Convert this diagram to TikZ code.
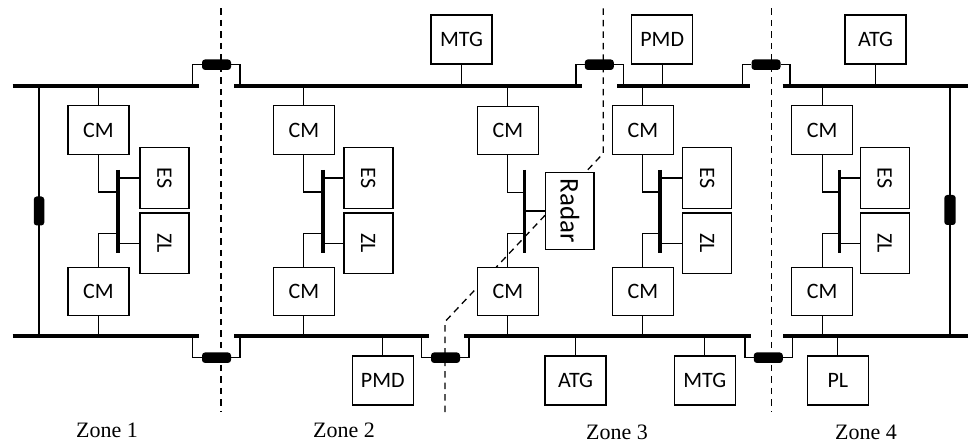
\documentclass[tikz,border=0pt]{standalone}
\usepackage{fontspec}
\usepackage{graphicx}
\setmainfont{Carlito}
\newfontfamily\zonefont{Liberation Serif}
\begin{document}
\begin{tikzpicture}[x=1pt,y=-1pt,
 box/.style={draw, line width=1.4pt, fill=white, inner sep=0pt, font=\fontsize{22}{26}\selectfont},
 cmbox/.style={box, minimum width=61pt, minimum height=48.5pt},
 genbox/.style={box, minimum width=61pt, minimum height=49pt},
 loadbox/.style={box, minimum width=49pt, minimum height=60.5pt},
 radarbox/.style={box, minimum width=48.5pt, minimum height=76.5pt, font=\fontsize{27}{30}\selectfont},
 bus/.style={line width=3.8pt},
 minibus/.style={line width=3.5pt},
 wire/.style={line width=1.3pt},
 pillh/.style={fill=black, rounded corners=3pt, minimum width=29pt, minimum height=10.5pt, inner sep=0pt},
 pillv/.style={fill=black, rounded corners=3pt, minimum width=10.5pt, minimum height=29pt, inner sep=0pt},
 zoneline/.style={line width=1.3pt, dash pattern=on 6.5pt off 5pt},
 zonelabel/.style={font=\zonefont\fontsize{22}{26}\selectfont, anchor=base, inner sep=0pt}
]
\useasboundingbox (0,0) rectangle (968,443);

% zone boundaries
\coordinate (d1t) at (221,8.3);   \coordinate (d1b) at (221,411.7);
\coordinate (d2t) at (603.3,8.3); \coordinate (d2m) at (603.3,153.3);
\coordinate (d2n) at (445,321.7); \coordinate (d2b) at (445,415);
\coordinate (d3t) at (771.7,8.3); \coordinate (d3b) at (771.7,411.7);
\draw[zoneline] (d1t) -- (d1b);
\draw[zoneline] (d2t) -- (d2m) -- (d2n) -- (d2b);
\draw[zoneline] (d3t) -- (d3b);

% bus coordinates
\coordinate (t1a) at (12.7,85.7);  \coordinate (t1b) at (199,85.7);
\coordinate (t2a) at (234.3,85.7); \coordinate (t2b) at (582,85.7);
\coordinate (t3a) at (617.3,85.7); \coordinate (t3b) at (750,85.7);
\coordinate (t4a) at (782.7,85.7); \coordinate (t4b) at (968,85.7);
\coordinate (b1a) at (12.7,335.7);  \coordinate (b1b) at (199.3,335.7);
\coordinate (b2a) at (234.3,335.7); \coordinate (b2b) at (429,335.7);
\coordinate (b3a) at (464.3,335.7); \coordinate (b3b) at (750.7,335.7);
\coordinate (b4a) at (783.3,335.7); \coordinate (b4b) at (968,335.7);

% boxes
\node[cmbox] (cm1u) at (98.5,130) {CM};
\node[cmbox] (cm1d) at (98.5,291.5) {CM};
\node[loadbox] (es1) at (164.5,178) {\rotatebox{-90}{ES}};
\node[loadbox] (zl1) at (164.5,243.2) {\rotatebox{-90}{ZL}};

\node[cmbox] (cm2u) at (303.8,130) {CM};
\node[cmbox] (cm2d) at (303.8,291.5) {CM};
\node[loadbox] (es2) at (368.3,178) {\rotatebox{-90}{ES}};
\node[loadbox] (zl2) at (368.3,243.2) {\rotatebox{-90}{ZL}};
\node[genbox] (mtg2) at (461.5,39.5) {MTG};
\node[genbox] (pmd2) at (382.8,380.3) {PMD};

\node[cmbox] (cm3u) at (507.8,130.5) {CM};
\node[cmbox] (cm3d) at (507.8,291.5) {CM};
\node[radarbox] (radar) at (569.8,211) {\rotatebox{-90}{Radar}};
\node[genbox] (atg3) at (575.5,380.3) {ATG};
\node[genbox] (pmd3) at (662.2,39.5) {PMD};
\node[cmbox] (cm3ru) at (642.8,130) {CM};
\node[cmbox] (cm3rd) at (642.8,291.5) {CM};
\node[loadbox] (es3) at (707.2,178) {\rotatebox{-90}{ES}};
\node[loadbox] (zl3) at (707.2,243.2) {\rotatebox{-90}{ZL}};
\node[genbox] (mtg3) at (704.8,380.3) {MTG};

\node[cmbox] (cm4u) at (822.2,130) {CM};
\node[cmbox] (cm4d) at (822.2,291.5) {CM};
\node[loadbox] (es4) at (884.7,178) {\rotatebox{-90}{ES}};
\node[loadbox] (zl4) at (884.7,243.2) {\rotatebox{-90}{ZL}};
\node[genbox] (atg4) at (875.5,39.5) {ATG};
\node[genbox] (pl4) at (837.8,380.3) {PL};

% main buses
\draw[bus] (t1a) -- (t1b); \draw[bus] (t2a) -- (t2b);
\draw[bus] (t3a) -- (t3b); \draw[bus] (t4a) -- (t4b);
\draw[bus] (b1a) -- (b1b); \draw[bus] (b2a) -- (b2b);
\draw[bus] (b3a) -- (b3b); \draw[bus] (b4a) -- (b4b);

% mini buses
\coordinate (m1a) at (118,170);   \coordinate (m1b) at (118,253);
\coordinate (m2a) at (323,170);   \coordinate (m2b) at (323,253);
\coordinate (m3a) at (524.3,170); \coordinate (m3b) at (524.3,253.3);
\coordinate (m4a) at (660,170);   \coordinate (m4b) at (660,253);
\coordinate (m5a) at (839.3,170); \coordinate (m5b) at (839.3,253);
\draw[minibus] (m1a) -- (m1b);
\draw[minibus] (m2a) -- (m2b);
\draw[minibus] (m3a) -- (m3b);
\draw[minibus] (m4a) -- (m4b);
\draw[minibus] (m5a) -- (m5b);

% tap points on mini buses
\coordinate (m1u) at (118,192);   \coordinate (m1d) at (118,233.7);
\coordinate (m2u) at (323,192);   \coordinate (m2d) at (323,233.7);
\coordinate (m3u) at (524.3,192.3); \coordinate (m3d) at (524.3,233.7);
\coordinate (m4u) at (660,192);   \coordinate (m4d) at (660,233.7);
\coordinate (m5u) at (839.3,192); \coordinate (m5d) at (839.3,233.7);

% CM connections
\foreach \c/\m/\t/\b in {1/1/t1a/b1a, 2/2/t2a/b2a, 3/3/t2a/b3a, 3r/4/t3a/b3a, 4/5/t4a/b4a}{
  \draw[wire] (cm\c u.north) -- (cm\c u.north |- \t);
  \draw[wire] (cm\c u.south) |- (m\m u);
  \draw[wire] (cm\c d.north) |- (m\m d);
  \draw[wire] (cm\c d.south) -- (cm\c d.south |- \b);
}
% loads on mini buses
\draw[wire] (es1.west) -- (es1.west -| m1a);
\draw[wire] (zl1.west) -- (zl1.west -| m1a);
\draw[wire] (es2.west) -- (es2.west -| m2a);
\draw[wire] (zl2.west) -- (zl2.west -| m2a);
\draw[wire] (radar.west) -- (radar.west -| m3a);
\draw[wire] (es3.west) -- (es3.west -| m4a);
\draw[wire] (zl3.west) -- (zl3.west -| m4a);
\draw[wire] (es4.west) -- (es4.west -| m5a);
\draw[wire] (zl4.west) -- (zl4.west -| m5a);

% generators / loads on main buses
\draw[wire] (mtg2.south) -- (mtg2.south |- t2a);
\draw[wire] (pmd3.south) -- (pmd3.south |- t3a);
\draw[wire] (atg4.south) -- (atg4.south |- t4a);
\draw[wire] (pmd2.north) -- (pmd2.north |- b2a);
\draw[wire] (atg3.north) -- (atg3.north |- b3a);
\draw[wire] (mtg3.north) -- (mtg3.north |- b3a);
\draw[wire] (pl4.north) -- (pl4.north |- b4a);

% side ties
\coordinate (s1t) at (39,85.7);  \coordinate (s1b) at (39,335.7);
\coordinate (s4t) at (950,85.7); \coordinate (s4b) at (950,335.7);
\draw[wire] (s1t) -- (s1b);
\draw[wire] (s4t) -- (s4b);
\node[pillv] (p1) at (39,211) {};
\node[pillv, minimum width=11.4pt, minimum height=30pt] (p4) at (950,210) {};

% inter-zone links
\node[pillh] (l12t) at (216.5,64.7) {};
\node[pillh] (l23t) at (599.3,64.7) {};
\node[pillh] (l34t) at (766,64.7) {};
\node[pillh] (l12b) at (216.5,357.7) {};
\node[pillh] (l23b) at (445.5,357.7) {};
\node[pillh] (l34b) at (768.3,357.7) {};
\coordinate (l12ta) at (192.7,85.7); \coordinate (l12tb) at (240,85.7);
\coordinate (l23ta) at (576,85.7);   \coordinate (l23tb) at (623.3,85.7);
\coordinate (l34ta) at (742.7,85.7); \coordinate (l34tb) at (790,85.7);
\coordinate (l12ba) at (192.7,335.7); \coordinate (l12bb) at (240,335.7);
\coordinate (l23ba) at (421.7,335.7); \coordinate (l23bb) at (469,335.7);
\coordinate (l34ba) at (745,335.7);   \coordinate (l34bb) at (792.3,335.7);
\foreach \l in {l12t,l23t,l34t,l12b,l23b,l34b}{
  \draw[wire] (\l a) |- (\l.west);
  \draw[wire] (\l b) |- (\l.east);
}

% zone labels
\node[zonelabel] (z1) at (107,437) {Zone 1};
\node[zonelabel] (z2) at (344,437) {Zone 2};
\node[zonelabel] (z3) at (617,439.5) {Zone 3};
\node[zonelabel] (z4) at (866,439.5) {Zone 4};
\end{tikzpicture}
\end{document}
